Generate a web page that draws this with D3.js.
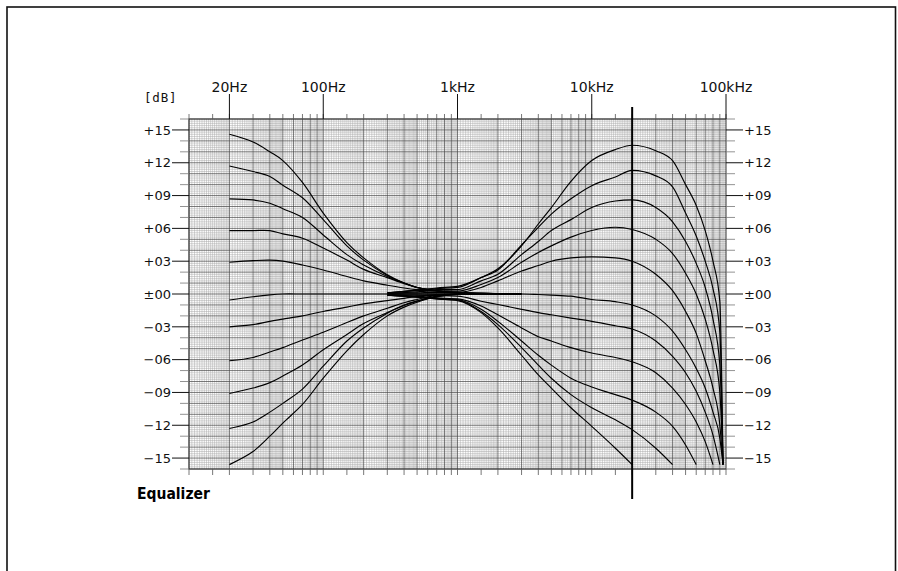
<!DOCTYPE html>
<html><head><meta charset="utf-8">
<script src="https://cdn.jsdelivr.net/npm/d3@7"></script>
<style>body{margin:0;background:#fff}svg{display:block}</style>
</head><body>
<script>
// ---------- data ----------
const dbTicks = [15,12,9,6,3,0,-3,-6,-9,-12,-15];
const dbLabels = ["+15","+12","+09","+06","+03","±00","−03","−06","−09","−12","−15"];
const freqTicks = [20,100,1000,10000,100000];
const freqLabels = ["20Hz","100Hz","1kHz","10kHz","100kHz"];
const markerFreq = 20000;

const bassFreqs = [20,30,40,50,70,100,150,200,300,400,500,700,1000,2000,3000];
const bass1  = [14.6,13.9,13.0,12.2,10.2,7.4,4.7,3.3,1.75,1.0,0.6,0.3,0.15,0.05,0];
const bass2  = [11.7,11.2,10.75,9.95,8.8,6.8,4.4,3.1,1.7,1.0,0.6,0.3,0.15,0.05,0];
const bass3  = [8.7,8.6,8.3,7.8,7.0,5.4,3.6,2.65,1.6,1.0,0.6,0.3,0.1,0.05,0];
const bass4  = [5.8,5.8,5.8,5.5,5.1,4.2,3.1,2.25,1.5,0.95,0.6,0.3,0.1,0,0];
const bass5  = [2.9,3.05,3.1,3.0,2.65,2.2,1.6,1.2,0.8,0.55,0.4,0.25,0.1,0,0];
const bass6  = [-0.55,-0.25,-0.08,0,0,0,0,0,0,0,0,0,0,0,0];
const bass7  = [-3.0,-2.8,-2.5,-2.3,-2.0,-1.6,-1.2,-0.9,-0.6,-0.4,-0.2,-0.05,0,0,0];
const bass8  = [-6.1,-5.8,-5.3,-4.9,-4.2,-3.5,-2.6,-2.0,-1.3,-0.8,-0.5,-0.1,0,0,0];
const bass9  = [-9.1,-8.6,-8.1,-7.5,-6.5,-5.1,-3.7,-2.7,-1.7,-1.05,-0.65,-0.2,0,0,0];
const bass10 = [-12.3,-11.7,-10.8,-10.0,-8.7,-6.6,-4.3,-3.1,-1.75,-1.0,-0.65,-0.25,-0.05,0,0];
const bass11 = [-15.6,-14.4,-13.0,-11.8,-10.1,-7.7,-5.2,-3.7,-2.0,-1.2,-0.75,-0.25,-0.05,0,0];

const trebleFreqs = [300,500,700,1000,1500,2000,3000,4000,5000,7000,10000,15000,20000,30000,40000,50000,60000,70000,80000,90000,95000];
const treble1  = [0.1,0.35,0.55,0.7,1.5,2.3,4.4,6.4,7.9,10.3,12.2,13.2,13.6,13.1,12.2,10.0,8.1,5.8,3.0,-0.7,-15.6];
const treble2  = [0.1,0.35,0.5,0.6,1.5,2.2,4.5,6.1,7.3,8.7,9.9,10.7,11.3,10.8,9.8,7.4,5.3,3.0,0.5,-3.5,-15.6];
const treble3  = [0.1,0.3,0.4,0.4,1.2,1.8,3.6,4.8,5.8,6.8,7.9,8.5,8.6,7.9,6.6,4.8,2.8,0.6,-2.3,-6.5,-15.6];
const treble4  = [0.05,0.2,0.3,0.26,0.87,1.5,2.9,3.8,4.4,5.2,5.8,6.1,5.9,5.0,3.7,1.9,0.0,-2.3,-5.1,-9.0,-15.6];
const treble5  = [0.05,0.1,0.15,0.15,0.6,1.2,2.1,2.6,3.0,3.3,3.4,3.3,3.0,1.8,0.3,-1.6,-3.6,-6.1,-8.6,-12.0,-15.6];
const treble6  = [0,0,0,0,0,0,0,-0.05,-0.1,-0.2,-0.5,-0.7,-1.0,-2.0,-3.4,-5.1,-6.8,-8.6,-10.8,-13.2,-15.6];
const treble7  = [-0.05,-0.1,-0.15,-0.2,-0.66,-0.96,-1.4,-1.7,-1.9,-2.2,-2.5,-2.9,-3.2,-4.3,-5.7,-7.2,-8.9,-10.8,-12.9,-15.6,null];
const treble8  = [-0.1,-0.2,-0.35,-0.45,-1.1,-1.9,-3.1,-3.9,-4.3,-4.9,-5.4,-5.8,-6.2,-7.2,-8.6,-10.1,-11.7,-13.5,-15.6,null,null];
const treble9  = [-0.1,-0.25,-0.4,-0.5,-1.4,-2.5,-4.3,-5.6,-6.5,-7.7,-8.5,-9.2,-9.7,-10.8,-12.1,-13.8,-15.6,null,null,null,null];
const treble10 = [-0.1,-0.3,-0.45,-0.55,-1.6,-2.8,-4.9,-6.5,-7.7,-9.2,-10.4,-11.5,-12.4,-14.1,-15.6,null,null,null,null,null,null];
const treble11 = [-0.1,-0.3,-0.45,-0.6,-1.7,-3.1,-5.6,-7.4,-8.6,-10.4,-12.1,-14.1,-15.6,null,null,null,null,null,null,null,null];

const bassSeries = [bass1,bass2,bass3,bass4,bass5,bass6,bass7,bass8,bass9,bass10,bass11];
const trebleSeries = [treble1,treble2,treble3,treble4,treble5,treble6,treble7,treble8,treble9,treble10,treble11];

// ---------- chart ----------
const W = 898, H = 571;
const svg = d3.select("body").append("svg").attr("width", W).attr("height", H);
const x = d3.scaleLog().domain([10, 100000]).range([189, 726]);
const y = d3.scaleLinear().domain([-16, 16]).range([469, 119]);

// frame
svg.append("rect").attr("x", 7).attr("y", 7).attr("width", 888.5).attr("height", 600)
  .attr("fill", "none").attr("stroke", "#111").attr("stroke-width", 1.6);

const g = svg.append("g");
// fine grid
const fineV = [], majorV = [];
[10,100,1000,10000].forEach(d => {
  d3.range(1,2,0.05).concat(d3.range(2,5,0.1), d3.range(5,10,0.2)).forEach(m => {
    const r = Math.round(m*100)/100;
    if (Math.abs(r - Math.round(r)) < 1e-6) majorV.push(r*d); else fineV.push(r*d);
  });
});
const fineH = d3.range(-80, 81).map(i => i*0.2).filter(v => Math.abs(v - Math.round(v)) > 1e-6);
const majorH = d3.range(-16, 17);

g.selectAll(".fv").data(fineV).join("line")
  .attr("x1", d => x(d)).attr("x2", d => x(d)).attr("y1", y(16)).attr("y2", y(-16))
  .attr("stroke", "#a8a8a8").attr("stroke-width", 0.5);
g.selectAll(".fh").data(fineH).join("line")
  .attr("y1", d => y(d)).attr("y2", d => y(d)).attr("x1", x(10)).attr("x2", x(100000))
  .attr("stroke", "#a8a8a8").attr("stroke-width", 0.5);
g.selectAll(".mv").data(majorV).join("line")
  .attr("x1", d => x(d)).attr("x2", d => x(d)).attr("y1", y(16)).attr("y2", y(-16))
  .attr("stroke", "#444").attr("stroke-width", 0.7);
g.selectAll(".mh").data(majorH).join("line")
  .attr("y1", d => y(d)).attr("y2", d => y(d)).attr("x1", x(10)).attr("x2", x(100000))
  .attr("stroke", "#444").attr("stroke-width", 0.7);
g.append("rect").attr("x", x(10)).attr("y", y(16)).attr("width", x(100000)-x(10)).attr("height", y(-16)-y(16))
  .attr("fill", "none").attr("stroke", "#333").attr("stroke-width", 1);

// y-axis ticks & labels
const minorDb = d3.range(-16, 17).filter(v => v % 3 !== 0);
const axisG = svg.append("g").attr("font-family", "DejaVu Sans").attr("font-size", 13).attr("fill", "#111");
[[x(10), -1], [x(100000), 1]].forEach(([x0, dir]) => {
  axisG.selectAll(null).data(dbTicks).join("line")
    .attr("x1", x0).attr("x2", x0 + dir*17).attr("y1", d => y(d)).attr("y2", d => y(d))
    .attr("stroke", "#111").attr("stroke-width", 1);
  axisG.selectAll(null).data(minorDb).join("line")
    .attr("x1", x0).attr("x2", x0 + dir*9).attr("y1", d => y(d)).attr("y2", d => y(d))
    .attr("stroke", "#777").attr("stroke-width", 0.8);
  axisG.selectAll(null).data(dbTicks).join("text")
    .attr("x", x0 + dir*18).attr("y", d => y(d) + 4.7)
    .attr("text-anchor", dir < 0 ? "end" : "start")
    .text((d, i) => dbLabels[i]);
});

// top frequency ticks
const shortF = [];
[10,100,1000,10000].forEach(d => [1,1.5,2,3,4,5,6,7,8,9].forEach(m => shortF.push(m*d)));
shortF.push(100000);
axisG.selectAll(null).data(shortF).join("line")
  .attr("x1", d => x(d)).attr("x2", d => x(d)).attr("y1", y(16) - 5).attr("y2", y(16))
  .attr("stroke", "#555").attr("stroke-width", 0.8);
axisG.selectAll(null).data(freqTicks).join("line")
  .attr("x1", d => x(d)).attr("x2", d => x(d)).attr("y1", 94).attr("y2", y(16))
  .attr("stroke", "#111").attr("stroke-width", 1);
axisG.selectAll(null).data(freqTicks).join("text")
  .attr("x", d => x(d)).attr("y", 91.5).attr("text-anchor", "middle").attr("font-size", 14)
  .text((d, i) => freqLabels[i]);
// bottom ticks
axisG.selectAll(null).data(shortF).join("line")
  .attr("x1", d => x(d)).attr("x2", d => x(d)).attr("y1", y(-16)).attr("y2", y(-16) + 6)
  .attr("stroke", "#555").attr("stroke-width", 0.8);

svg.append("text").attr("x", 144).attr("y", 102).attr("font-family", "DejaVu Sans Mono")
  .attr("font-size", 12.5).attr("letter-spacing", 0.8).attr("fill", "#111").text("[dB]");

// curves
const bassLine = d3.line().x(d => x(d[0])).y(d => y(d[1])).curve(d3.curveCatmullRom.alpha(0.5));
const trebleLine = d3.line().defined(d => d[1] !== null)
  .x(d => x(d[0])).y(d => y(d[1])).curve(d3.curveMonotoneX);
const cg = svg.append("g").attr("fill", "none").attr("stroke", "#000").attr("stroke-width", 1.15);
bassSeries.forEach(s => cg.append("path").attr("d", bassLine(bassFreqs.map((f, i) => [f, s[i]]))));
trebleSeries.forEach(s => cg.append("path").attr("d", trebleLine(trebleFreqs.map((f, i) => [f, s[i]]))));

// marker line at 20 kHz
svg.append("line").attr("x1", x(markerFreq)).attr("x2", x(markerFreq)).attr("y1", 107).attr("y2", 499)
  .attr("stroke", "#000").attr("stroke-width", 2);

// title
svg.append("text").attr("x", 137).attr("y", 499).attr("font-family", "DejaVu Sans Condensed, DejaVu Sans")
  .attr("font-weight", "bold").attr("font-stretch", "condensed").attr("font-size", 15.5).attr("fill", "#000").text("Equalizer");
</script>
</body></html>
